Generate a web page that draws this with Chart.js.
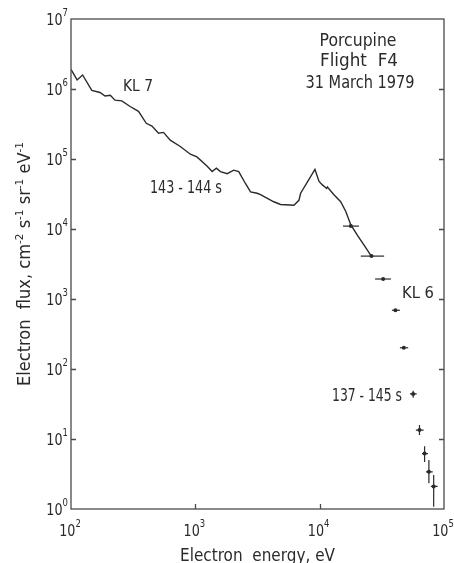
<!DOCTYPE html>
<html>
<head>
<meta charset="utf-8">
<title>Porcupine Flight F4 electron spectrum</title>
<script src="https://cdn.jsdelivr.net/npm/chart.js@4.4.1/dist/chart.umd.min.js"></script>
<style>
  html, body { margin: 0; padding: 0; background: #ffffff; }
  canvas { display: block; }
</style>
</head>
<body>
<canvas id="spectrum" width="454" height="563"></canvas>
<script>
// KL 7 continuous spectrum, 143-144 s (energy in eV, flux in cm^-2 s^-1 sr^-1 eV^-1)
const kl7Energy = [100, 112, 124, 147, 171, 188, 207, 226, 256, 299, 349, 403, 448, 506, 555, 628,
  757, 912, 1030, 1240, 1365, 1476, 1592, 1803, 2037, 2234, 2529, 2780, 3141, 3342, 4276, 4842,
  6209, 6808, 7031, 9162, 9886, 10520, 11380, 11530, 13030, 14760, 16220, 17780, 20140, 22750, 26120];
const kl7Flux = [1.905e6, 1.349e6, 1.585e6, 9.55e5, 8.91e5, 7.94e5, 8.13e5, 6.92e5, 6.76e5, 5.62e5,
  4.79e5, 3.24e5, 2.95e5, 2.34e5, 2.40e5, 1.86e5, 1.51e5, 1.17e5, 1.07e5, 7.94e4, 6.61e4, 7.41e4,
  6.61e4, 6.17e4, 6.92e4, 6.61e4, 4.47e4, 3.39e4, 3.24e4, 3.09e4, 2.45e4, 2.24e4, 2.19e4, 2.57e4,
  3.24e4, 7.08e4, 4.79e4, 4.27e4, 3.80e4, 3.98e4, 3.09e4, 2.45e4, 1.78e4, 1.15e4, 8.13e3, 5.89e3, 4.07e3];

// KL 6 channel measurements, 137-145 s, with energy bins and flux uncertainties
const kl6Energy     = [17800, 26100, 32400, 40700, 47500, 56500, 63500, 69800, 75600, 82600];
const kl6Flux       = [11000, 4100, 1930, 690, 201, 44, 13.4, 6.2, 3.4, 2.1];
const kl6EnergyLow  = [15400, 21400, 27900, 38100, 44200, 53200, 59400, 66500, 71600, 78500];
const kl6EnergyHigh = [20700, 33000, 37400, 44200, 51500, 60300, 68500, 74300, 81100, 88900];
const kl6FluxLow    = [11000, 4100, 1930, 690, 201, 39, 11.4, 4.7, 2.33, 1.08];
const kl6FluxHigh   = [11000, 4100, 1930, 690, 201, 49, 15.8, 7.9, 5.0, 3.06];

// Decade tick exponents
const xTickPowers = [2, 3, 4, 5];
const yTickPowers = [0, 1, 2, 3, 4, 5, 6, 7];

const INK = '#2a2a2a';
const FONT = '"DejaVu Sans", sans-serif';

// Draws a run of text parts ({t, sup}) with optional superscripts, condensed horizontally.
function richText(ctx, parts, x, y, o) {
  const size = o.size || 15;
  const supSize = Math.round(size * 0.64);
  const raise = o.raise != null ? o.raise : size * 0.42;
  ctx.save();
  ctx.letterSpacing = (o.spacing || 0) + 'px';
  const widths = parts.map(p => {
    ctx.font = (p.sup ? supSize : size) + 'px ' + FONT;
    return ctx.measureText(p.t).width;
  });
  const natural = widths.reduce((a, b) => a + b, 0);
  const k = o.width ? o.width / natural : (o.k || 1);
  ctx.translate(x, y);
  if (o.rotate) ctx.rotate(-Math.PI / 2);
  ctx.scale(k, 1);
  let cx = o.align === 'center' ? -natural / 2 : (o.align === 'right' ? -natural : 0);
  ctx.fillStyle = INK;
  ctx.textBaseline = 'alphabetic';
  ctx.textAlign = 'left';
  parts.forEach((p, i) => {
    ctx.font = (p.sup ? supSize : size) + 'px ' + FONT;
    ctx.fillText(p.t, cx, p.sup ? -raise : 0);
    cx += widths[i];
  });
  ctx.restore();
}

const decorations = {
  id: 'decorations',
  afterDatasetsDraw(chart) {
    const { ctx, chartArea: a, scales } = chart;
    const xs = scales.x, ys = scales.y;

    // KL 6 error bars
    ctx.save();
    ctx.strokeStyle = INK;
    ctx.lineWidth = 1.2;
    kl6Energy.forEach((e, i) => {
      const py = ys.getPixelForValue(kl6Flux[i]);
      const px = xs.getPixelForValue(e);
      ctx.beginPath();
      ctx.moveTo(xs.getPixelForValue(kl6EnergyLow[i]), py);
      ctx.lineTo(xs.getPixelForValue(kl6EnergyHigh[i]), py);
      if (kl6FluxHigh[i] !== kl6FluxLow[i]) {
        ctx.moveTo(px, ys.getPixelForValue(kl6FluxHigh[i]));
        ctx.lineTo(px, ys.getPixelForValue(kl6FluxLow[i]));
      }
      ctx.stroke();
    });
    ctx.restore();

    // Frame and inward tick marks
    ctx.save();
    ctx.strokeStyle = '#4a4a4a';
    ctx.lineWidth = 1.3;
    ctx.strokeRect(a.left, a.top, a.right - a.left, a.bottom - a.top);
    ctx.beginPath();
    yTickPowers.slice(1, -1).forEach(p => {
      const py = Math.round(ys.getPixelForValue(Math.pow(10, p))) + 0.5;
      ctx.moveTo(a.left, py); ctx.lineTo(a.left + 5, py);
      ctx.moveTo(a.right, py); ctx.lineTo(a.right - 5, py);
    });
    xTickPowers.slice(1, -1).forEach(p => {
      const px = Math.round(xs.getPixelForValue(Math.pow(10, p))) + 0.5;
      ctx.moveTo(px, a.bottom); ctx.lineTo(px, a.bottom - 5);
    });
    ctx.stroke();
    ctx.restore();

    // Decade tick labels
    yTickPowers.forEach(p => {
      const py = ys.getPixelForValue(Math.pow(10, p));
      richText(ctx, [{ t: '10' }, { t: String(p), sup: true }], a.left - 3, py + 6,
        { size: 15, k: 0.85, align: 'right', raise: 9 });
    });
    xTickPowers.forEach(p => {
      const px = xs.getPixelForValue(Math.pow(10, p));
      richText(ctx, [{ t: '10' }, { t: String(p), sup: true }], px - 1, a.bottom + 27,
        { size: 15, k: 0.85, align: 'center', raise: 9 });
    });

    // Axis titles
    richText(ctx, [{ t: 'Electron  energy, eV' }], (a.left + a.right) / 2, 561,
      { size: 17, width: 155, align: 'center' });
    richText(ctx, [
      { t: 'Electron  flux, cm' }, { t: '-2', sup: true }, { t: ' s' }, { t: '-1', sup: true },
      { t: ' sr' }, { t: '-1', sup: true }, { t: ' eV' }, { t: '-1', sup: true }
    ], 30, (a.top + a.bottom) / 2, { size: 17, width: 244, align: 'center', rotate: true, raise: 7 });

    // Annotations
    richText(ctx, [{ t: 'Porcupine' }], 358, 46, { size: 17, width: 77, align: 'center' });
    richText(ctx, [{ t: 'Flight  F4' }], 359, 66, { size: 17, width: 78, align: 'center' });
    richText(ctx, [{ t: '31 March 1979' }], 360, 88, { size: 17, width: 109, align: 'center' });
    richText(ctx, [{ t: 'KL 7' }], 123, 91, { size: 16, width: 30 });
    richText(ctx, [{ t: '143 - 144 s' }], 150, 193, { size: 17, width: 72 });
    richText(ctx, [{ t: 'KL 6' }], 402, 298, { size: 16, width: 32 });
    richText(ctx, [{ t: '137 - 145 s' }], 332, 401, { size: 17, width: 70 });
  }
};

const logAxis = (min, max, powers, fit) => ({
  type: 'logarithmic',
  min, max,
  ticks: { display: false },
  grid: { display: false, drawTicks: false },
  border: { display: false },
  afterBuildTicks: s => { s.ticks = powers.map(p => ({ value: Math.pow(10, p) })); },
  afterFit: fit
});

new Chart(document.getElementById('spectrum'), {
  type: 'scatter',
  data: {
    datasets: [
      {
        label: 'KL 7',
        data: kl7Energy.map((e, i) => ({ x: e, y: kl7Flux[i] })),
        showLine: true,
        borderColor: INK,
        borderWidth: 1.4,
        pointRadius: 0,
        tension: 0
      },
      {
        label: 'KL 6',
        data: kl6Energy.map((e, i) => ({ x: e, y: kl6Flux[i] })),
        showLine: false,
        pointRadius: 2,
        pointBackgroundColor: INK,
        pointBorderWidth: 0
      }
    ]
  },
  options: {
    responsive: false,
    devicePixelRatio: 1,
    animation: false,
    layout: { padding: { top: 19, right: 10, left: 0, bottom: 0 } },
    plugins: { legend: { display: false }, tooltip: { enabled: false } },
    scales: {
      x: logAxis(100, 1e5, xTickPowers, s => { s.height = 54; }),
      y: logAxis(1, 1e7, yTickPowers, s => { s.width = 71; })
    }
  },
  plugins: [decorations]
});
</script>
</body>
</html>
